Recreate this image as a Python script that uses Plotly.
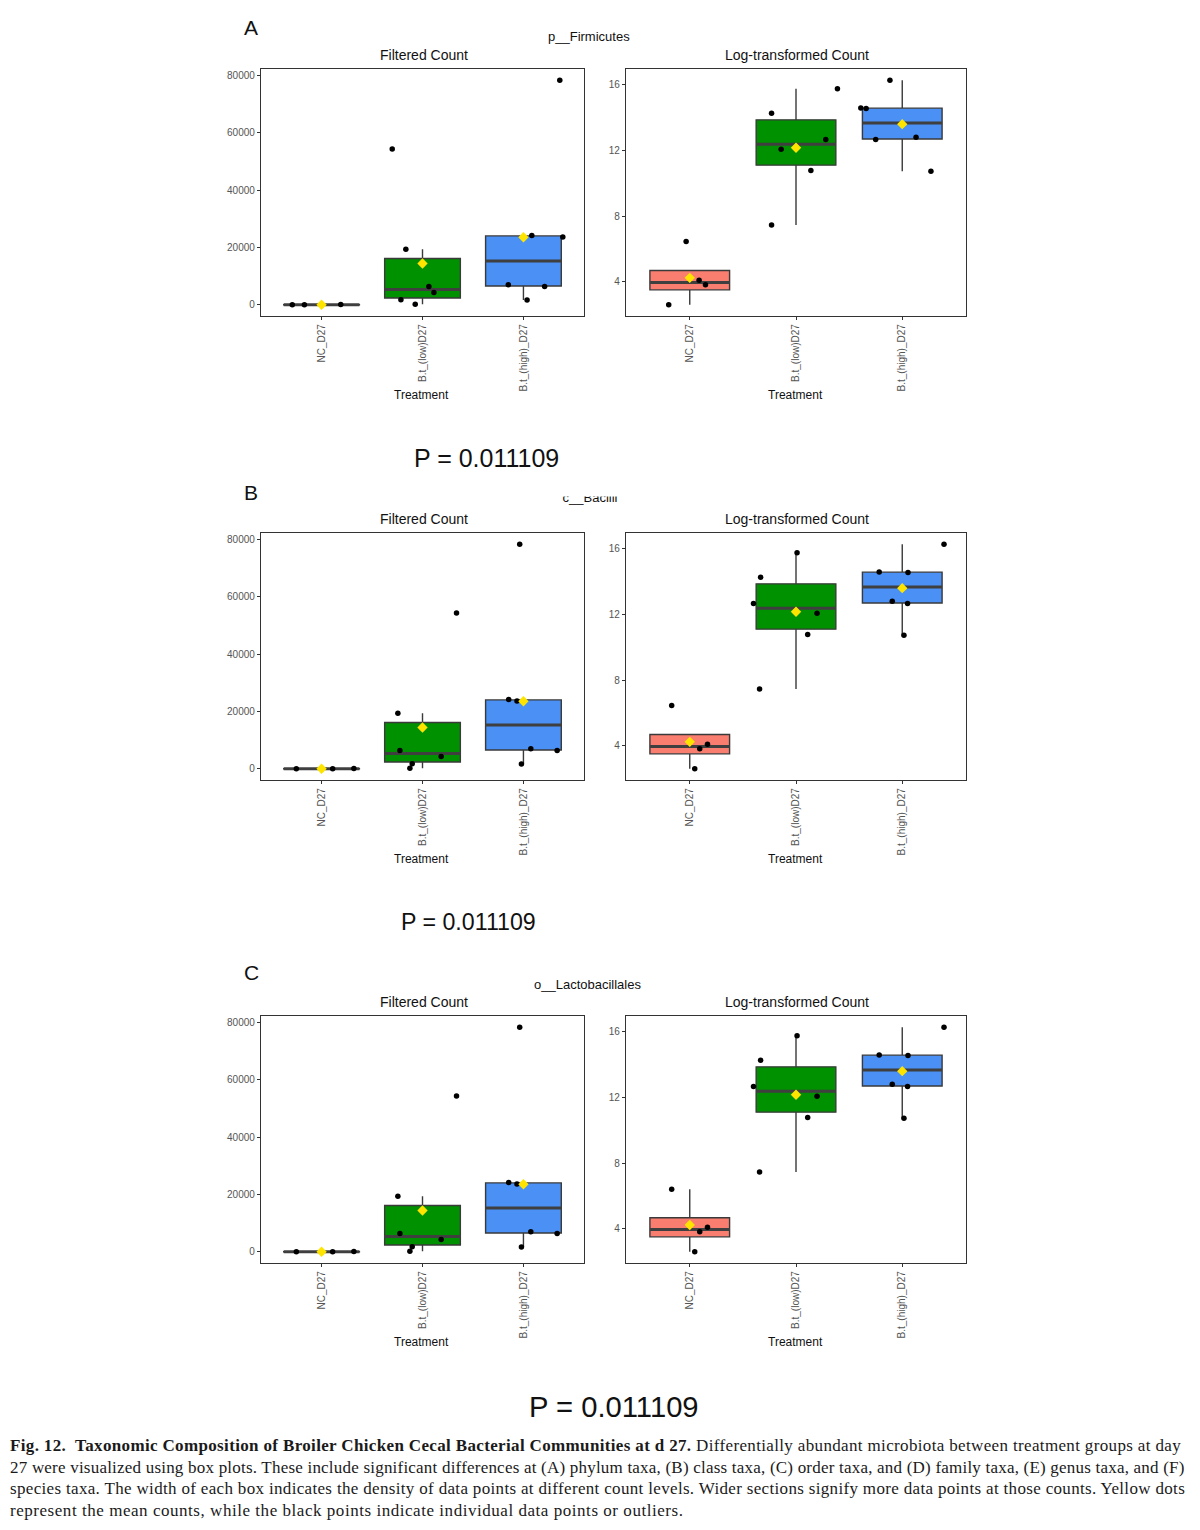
import numpy as np
import plotly.graph_objects as go

W, H = 1200, 1530

# ---------------- data ----------------
groups = ["NC_D27", "B.t_(low)D27", "B.t_(high)_D27"]
taxa = ["p__Firmicutes", "c__Bacilli", "o__Lactobacillales"]
panel_letters = ["A", "B", "C"]
p_value_text = "P = 0.011109"

# filtered counts (same in all three panels)
count_nc = [6, 14, 17, 87]
count_low = [54300, 19400, 6400, 4250, 1720, 200]
count_high = [78300, 24150, 23600, 7000, 6400, 1700]

# log-transformed counts
log_nc_ab = [2.61, 3.82, 4.10, 6.45]
log_nc_c = [2.61, 3.82, 4.10, 6.41]
log_low = [15.73, 14.24, 12.65, 12.06, 10.77, 7.45]
log_high = [16.25, 14.56, 14.53, 12.78, 12.65, 10.72]

# horizontal jitter (category units), same order as values
jit_a_count = [[-0.29, -0.17, 0.0, 0.19],
               [-0.30, -0.165, 0.063, 0.113, -0.214, -0.072],
               [0.36, 0.083, 0.39, -0.15, 0.21, 0.036]]
jit_a_log = [[-0.198, 0.148, 0.088, -0.034],
             [0.39, -0.23, 0.28, -0.14, 0.14, -0.23],
             [-0.116, -0.39, -0.34, 0.13, -0.25, 0.27]]
jit_bc_count = [[-0.25, 0.0, 0.11, 0.32],
                [0.337, -0.244, -0.224, 0.185, -0.102, -0.125],
                [-0.037, -0.146, -0.064, 0.073, 0.334, -0.02]]
jit_bc_log = [[0.047, 0.094, 0.167, -0.17],
              [0.01, -0.333, -0.40, 0.198, 0.11, -0.343],
              [0.393, -0.217, 0.054, -0.094, 0.05, 0.016]]

count_ticks = [0, 20000, 40000, 60000, 80000]
log_ticks = [4, 8, 12, 16]

caption_lines = [
    "<b>Fig. 12.&nbsp; Taxonomic Composition of Broiler Chicken Cecal Bacterial Communities at d 27.</b> Differentially abundant microbiota between treatment groups at day",
    "27 were visualized using box plots. These include significant differences at (A) phylum taxa, (B) class taxa, (C) order taxa, and (D) family taxa, (E) genus taxa, and (F)",
    "species taxa. The width of each box indicates the density of data points at different count levels. Wider sections signify more data points at those counts. Yellow dots",
    "represent the mean counts, while the black points indicate individual data points or outliers.",
]

# ---------------- styling / layout ----------------
fills = ["#F97E6F", "#009100", "#4A90F5"]
SANS = "Liberation Sans, Arial, sans-serif"
SERIF = "Liberation Serif, Times New Roman, serif"
frame_tops = [69, 533, 1016]
frame_h = 247
left_x = (261, 584)
right_x = (626, 966)
caption_spacing = [0.35, 0.21, 0.33, 0.54]   # px letter-spacing per line (justification look)


def X(px):
    return px / W


def Y(py):
    return 1 - py / H


def box_stats(v):
    v = np.sort(np.asarray(v, float))
    q1, med, q3 = np.percentile(v, [25, 50, 75])
    iqr = q3 - q1
    lo = v[v >= q1 - 1.5 * iqr].min()
    hi = v[v <= q3 + 1.5 * iqr].max()
    return q1, med, q3, lo, hi


def expanded(series):
    allv = np.concatenate([np.asarray(s, float) for s in series])
    lo, hi = allv.min(), allv.max()
    pad = 0.05 * (hi - lo)
    return [lo - pad, hi + pad]


fig = go.Figure()
layout_axes = {}
annotations = []
ax_i = 0

for p in range(3):
    top = frame_tops[p]
    bot = top + frame_h
    log_nc = log_nc_c if p == 2 else log_nc_ab
    count_series = [count_nc, count_low, count_high]
    log_series = [log_nc, log_low, log_high]
    jc = jit_a_count if p == 0 else jit_bc_count
    jl = jit_a_log if p == 0 else jit_bc_log
    for side, (series, jit, xr, ticks, title) in enumerate([
        (count_series, jc, left_x, count_ticks, "Filtered Count"),
        (log_series, jl, right_x, log_ticks, "Log-transformed Count"),
    ]):
        ax_i += 1
        xa = "x" if ax_i == 1 else f"x{ax_i}"
        ya = "y" if ax_i == 1 else f"y{ax_i}"
        xkey = "xaxis" if ax_i == 1 else f"xaxis{ax_i}"
        ykey = "yaxis" if ax_i == 1 else f"yaxis{ax_i}"
        for g in range(3):
            vals = series[g]
            q1, med, q3, lo, hi = box_stats(vals)
            fig.add_trace(go.Box(
                x=[g + 1], q1=[q1], median=[med], q3=[q3],
                lowerfence=[lo], upperfence=[hi], width=0.75,
                fillcolor=fills[g], line=dict(color="#3a3a3a", width=1.4),
                whiskerwidth=0, boxpoints=False, xaxis=xa, yaxis=ya,
                showlegend=False, hoverinfo="skip"))
            fig.add_trace(go.Scatter(
                x=[g + 1 - 0.375, g + 1 + 0.375], y=[med, med], mode="lines",
                line=dict(color="#3f3f3f", width=3), xaxis=xa, yaxis=ya,
                showlegend=False, hoverinfo="skip"))
        for g in range(3):
            vals = series[g]
            fig.add_trace(go.Scatter(
                x=[g + 1 + o for o in jit[g]], y=vals, mode="markers",
                marker=dict(color="black", size=5.5), xaxis=xa, yaxis=ya,
                showlegend=False, hoverinfo="skip"))
        for g in range(3):
            fig.add_trace(go.Scatter(
                x=[g + 1], y=[float(np.mean(series[g]))], mode="markers",
                marker=dict(symbol="diamond", color="#FFE400", size=8),
                xaxis=xa, yaxis=ya, showlegend=False, hoverinfo="skip"))
        layout_axes[xkey] = dict(
            domain=[X(xr[0]), X(xr[1])], range=[0.4, 3.6], anchor=ya,
            tickvals=[1, 2, 3], ticktext=groups, tickangle=-90,
            showline=True, mirror=True, linecolor="#333333", linewidth=1.3,
            ticks="outside", ticklen=3, tickcolor="#333333",
            tickfont=dict(family=SANS, size=10, color="#555555"),
            showgrid=False, zeroline=False, fixedrange=True)
        layout_axes[ykey] = dict(
            domain=[Y(bot), Y(top)], range=expanded(series), anchor=xa,
            tickvals=ticks, ticktext=[str(t) for t in ticks],
            showline=True, mirror=True, linecolor="#333333", linewidth=1.3,
            ticks="outside", ticklen=3, tickcolor="#333333",
            tickfont=dict(family=SANS, size=10, color="#555555"),
            showgrid=False, zeroline=False, fixedrange=True)
        cx = (xr[0] + xr[1]) / 2
        annotations.append(dict(text=title, x=X(cx + 1), y=Y(top - 14),
                                font=dict(family=SANS, size=14, color="#111111")))
        annotations.append(dict(text="Treatment", x=X(cx - 1), y=Y(bot + 79),
                                font=dict(family=SANS, size=12, color="#111111")))

# panel letters and taxon labels
letter_y = [27, 493, 972]
taxon_pos = [(589, 36), None, (587, 984)]
for p in range(3):
    annotations.append(dict(text=panel_letters[p], x=X(251), y=Y(letter_y[p]),
                            font=dict(family=SANS, size=21, color="#111111")))
    if taxon_pos[p] is not None:
        annotations.append(dict(text=taxa[p], x=X(taxon_pos[p][0]), y=Y(taxon_pos[p][1]),
                                font=dict(family=SANS, size=13, color="#111111")))

# clipped "c__Bacilli" label (top cut off like the reference)
clip_top, clip_bot, label_mid = 496.5, 515.0, 499.0
fig.add_trace(go.Scatter(x=[0.5], y=[(clip_bot - label_mid) / (clip_bot - clip_top)],
                         mode="text", text=[taxa[1]],
                         textposition="middle center", cliponaxis=True,
                         textfont=dict(family=SANS, size=13, color="#111111"),
                         xaxis="x7", yaxis="y7", showlegend=False, hoverinfo="skip"))
layout_axes["xaxis7"] = dict(domain=[X(540), X(640)], range=[0, 1], visible=False,
                             anchor="y7", fixedrange=True)
layout_axes["yaxis7"] = dict(domain=[Y(clip_bot), Y(clip_top)], range=[0, 1],
                             visible=False, anchor="x7", fixedrange=True)

# P values
p_pos = [(486, 458, 25), (468, 922, 23.2), (614, 1407, 29.2)]
for (px, py, fs) in p_pos:
    annotations.append(dict(text=p_value_text, x=X(px), y=Y(py),
                            font=dict(family=SANS, size=fs, color="#111111")))

# caption
cap_y = [1445, 1467, 1488, 1510]
for line, cy, ls in zip(caption_lines, cap_y, caption_spacing):
    annotations.append(dict(text=f'<span style="letter-spacing:{ls}px">{line}</span>',
                            x=X(8), y=Y(cy), xanchor="left",
                            font=dict(family=SERIF, size=17, color="#1a1a1a")))

for a in annotations:
    a.setdefault("xref", "paper")
    a.setdefault("yref", "paper")
    a.setdefault("showarrow", False)
    a.setdefault("xanchor", "center")
    a.setdefault("yanchor", "middle")

fig.update_layout(
    width=W, height=H, margin=dict(l=0, r=0, t=0, b=0),
    paper_bgcolor="white", plot_bgcolor="white",
    boxmode="overlay", showlegend=False,
    annotations=annotations, **layout_axes)

fig.write_html("out.html", config={"displayModeBar": False})
